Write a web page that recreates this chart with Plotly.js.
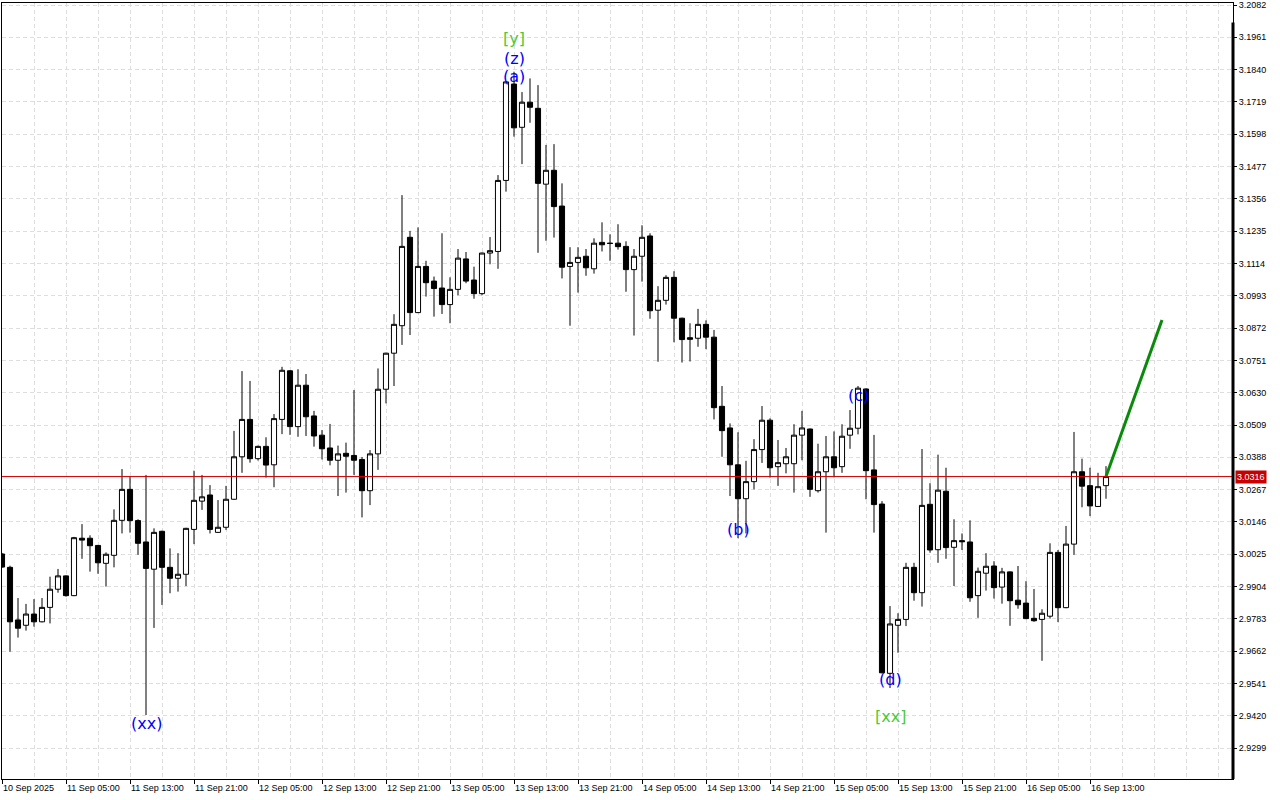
<!DOCTYPE html>
<html>
<head>
<meta charset="utf-8">
<script src="https://cdn.plot.ly/plotly-3.0.1.min.js"></script>
<style>
  html, body { margin: 0; padding: 0; background: #ffffff; }
  #chart { width: 1280px; height: 800px; }
</style>
</head>
<body>
<div id="chart"></div>
<script>
// ---- data (hourly candles, first bar 10 Sep 2025 21:00) ----
const firstBar = "2025-09-10 21:00";

const openVals = [
  3.0026, 2.9976, 2.9779, 2.9759, 2.9801, 2.9772, 2.9826, 2.9894, 2.9944, 2.9870,
  3.0085, 3.0085, 3.0058, 2.9991, 3.0021, 3.0152, 3.0268, 3.0151, 3.0071, 2.9969,
  3.0111, 2.9976, 2.9935, 2.9950, 3.0118, 3.0224, 3.0247, 3.0107, 3.0126, 3.0231,
  3.0390, 3.0530, 3.0383, 3.0429, 3.0360, 3.0530, 3.0712, 3.0503, 3.0658, 3.0543,
  3.0471, 3.0423, 3.0377, 3.0403, 3.0395, 3.0380, 3.0263, 3.0401, 3.0643, 3.0778,
  3.0881, 3.1212, 3.0930, 3.1103, 3.1048, 3.1022, 3.0960, 3.1017, 3.1131, 3.1052,
  3.1001, 3.1153, 3.1159, 3.1425, 3.1786, 3.1624, 3.1718, 3.1695, 3.1411, 3.1463,
  3.1329, 3.1103, 3.1118, 3.1141, 3.1094, 3.1193, 3.1190, 3.1190, 3.1178, 3.1091,
  3.1141, 3.1217, 3.0939, 3.0976, 3.1062, 3.0909, 3.0836, 3.0834, 3.0886, 3.0838,
  3.0579, 3.0498, 3.0360, 3.0233, 3.0297, 3.0417, 3.0527, 3.0353, 3.0364, 3.0364,
  3.0471, 3.0494, 3.0263, 3.0334, 3.0390, 3.0353, 3.0471, 3.0497, 3.0644, 3.0341,
  3.0213, 2.9579, 2.9759, 2.9781, 2.9976, 2.9881, 3.0212, 3.0042, 3.0261, 3.0051,
  3.0076, 3.0071, 2.9870, 2.9954, 2.9981, 2.9902, 2.9959, 2.9853, 2.9842, 2.9785,
  2.9781, 2.9793, 3.0032, 2.9825, 3.0063, 3.0334, 3.0282, 3.0204, 3.0282
];
const highVals = [
  3.0030, 2.9982, 2.9861, 2.9839, 2.9857, 2.9861, 2.9941, 2.9970, 2.9946, 3.0090,
  3.0138, 3.0096, 3.0060, 3.0032, 3.0193, 3.0344, 3.0318, 3.0156, 3.0322, 3.0122,
  3.0113, 3.0047, 3.0029, 3.0124, 3.0338, 3.0322, 3.0284, 3.0228, 3.0281, 3.0487,
  3.0711, 3.0674, 3.0432, 3.0463, 3.0550, 3.0727, 3.0715, 3.0718, 3.0700, 3.0562,
  3.0490, 3.0513, 3.0432, 3.0443, 3.0640, 3.0389, 3.0415, 3.0721, 3.0780, 3.0924,
  3.1370, 3.1236, 3.1249, 3.1124, 3.1065, 3.1227, 3.1062, 3.1168, 3.1157, 3.1102,
  3.1155, 3.1213, 3.1445, 3.1797, 3.1832, 3.1756, 3.1807, 3.1782, 3.1558, 3.1561,
  3.1414, 3.1175, 3.1175, 3.1168, 3.1208, 3.1268, 3.1223, 3.1261, 3.1197, 3.1168,
  3.1257, 3.1227, 3.1029, 3.1070, 3.1085, 3.0911, 3.0890, 3.0944, 3.0901, 3.0865,
  3.0655, 3.0515, 3.0482, 3.0375, 3.0456, 3.0580, 3.0534, 3.0453, 3.0423, 3.0512,
  3.0562, 3.0496, 3.0439, 3.0468, 3.0485, 3.0512, 3.0565, 3.0655, 3.0646, 3.0472,
  3.0224, 2.9831, 2.9804, 2.9993, 2.9993, 3.0419, 3.0291, 3.0398, 3.0349, 3.0156,
  3.0103, 3.0152, 2.9975, 3.0029, 2.9999, 2.9974, 2.9961, 2.9981, 2.9924, 2.9895,
  2.9819, 3.0066, 3.0041, 3.0131, 3.0483, 3.0383, 3.0349, 3.0330, 3.0355
];
const lowVals = [
  2.9974, 2.9660, 2.9713, 2.9739, 2.9754, 2.9770, 2.9766, 2.9881, 2.9866, 2.9868,
  3.0008, 2.9960, 2.9952, 2.9904, 2.9976, 3.0103, 3.0106, 3.0023, 2.9423, 2.9749,
  2.9835, 2.9879, 2.9885, 2.9906, 3.0063, 3.0191, 3.0103, 3.0105, 3.0116, 3.0229,
  3.0330, 3.0368, 3.0376, 3.0312, 3.0276, 3.0475, 3.0472, 3.0465, 3.0468, 3.0428,
  3.0380, 3.0358, 3.0243, 3.0256, 3.0322, 3.0163, 3.0209, 3.0341, 3.0590, 3.0655,
  3.0809, 3.0846, 3.0928, 3.0990, 3.0915, 3.0925, 3.0890, 3.0995, 3.1040, 3.0982,
  3.0995, 3.1111, 3.1094, 3.1383, 3.1589, 3.1486, 3.1641, 3.1154, 3.1199, 3.1211,
  3.1058, 3.0881, 3.1005, 3.1068, 3.1076, 3.1159, 3.1124, 3.1166, 3.1008, 3.0844,
  3.1046, 3.0907, 3.0746, 3.0960, 3.0819, 3.0743, 3.0747, 3.0802, 3.0793, 3.0530,
  3.0390, 3.0243, 3.0085, 3.0103, 3.0268, 3.0367, 3.0312, 3.0281, 3.0328, 3.0256,
  3.0377, 3.0240, 3.0256, 3.0106, 3.0313, 3.0330, 3.0420, 3.0474, 3.0231, 3.0106,
  2.9579, 2.9524, 2.9656, 2.9756, 2.9851, 2.9829, 3.0031, 2.9993, 3.0008, 2.9906,
  3.0041, 2.9847, 2.9787, 2.9889, 2.9859, 2.9840, 2.9757, 2.9821, 2.9782, 2.9772,
  2.9626, 2.9784, 2.9771, 2.9823, 3.0023, 3.0201, 3.0168, 3.0202, 3.0233
];
const closeVals = [
  2.9977, 2.9772, 2.9748, 2.9801, 2.9772, 2.9826, 2.9894, 2.9944, 2.9870, 3.0087,
  3.0078, 3.0057, 2.9993, 3.0025, 3.0152, 3.0268, 3.0151, 3.0066, 2.9972, 3.0107,
  2.9976, 2.9935, 2.9950, 3.0122, 3.0227, 3.0240, 3.0118, 3.0126, 3.0231, 3.0390,
  3.0530, 3.0383, 3.0429, 3.0359, 3.0533, 3.0714, 3.0503, 3.0658, 3.0540, 3.0468,
  3.0420, 3.0377, 3.0401, 3.0392, 3.0377, 3.0263, 3.0401, 3.0643, 3.0778, 3.0886,
  3.1178, 3.0930, 3.1103, 3.1042, 3.1020, 3.0960, 3.1017, 3.1134, 3.1048, 3.1001,
  3.1153, 3.1162, 3.1425, 3.1794, 3.1622, 3.1718, 3.1699, 3.1414, 3.1463, 3.1327,
  3.1100, 3.1118, 3.1137, 3.1098, 3.1190, 3.1184, 3.1189, 3.1177, 3.1091, 3.1141,
  3.1212, 3.0937, 3.0976, 3.1062, 3.0909, 3.0829, 3.0830, 3.0886, 3.0838, 3.0574,
  3.0488, 3.0360, 3.0233, 3.0297, 3.0417, 3.0527, 3.0349, 3.0368, 3.0390, 3.0471,
  3.0498, 3.0268, 3.0334, 3.0390, 3.0349, 3.0467, 3.0497, 3.0647, 3.0338, 3.0211,
  2.9581, 2.9764, 2.9781, 2.9976, 2.9881, 3.0208, 3.0041, 3.0265, 3.0050, 3.0076,
  3.0072, 2.9862, 2.9961, 2.9980, 2.9900, 2.9959, 2.9851, 2.9836, 2.9784, 2.9776,
  2.9804, 3.0032, 2.9825, 3.0063, 3.0334, 3.0280, 3.0206, 3.0278, 3.0316
];

const currentPrice = 3.0316;

// forecast arrow (green)
const forecastTimes = ["2025-09-16 15:00", "2025-09-16 22:00"];
const forecastPrices = [3.0316, 3.0902];

// wave labels
const waveLabels = ["[y]", "(z)", "(a)", "(xx)", "(b)", "(c)", "(d)", "[xx]"];
const waveTimes = ["2025-09-13 13:00", "2025-09-13 13:00", "2025-09-13 13:00", "2025-09-11 15:00",
                   "2025-09-14 17:00", "2025-09-15 08:00", "2025-09-15 12:00", "2025-09-15 12:00"];
const wavePrices = [3.1958, 3.1880, 3.1816, 2.9393, 3.0116, 3.0618, 2.9556, 2.9416];
const waveColors = ["#4cc93a", "#0000ff", "#0000ff", "#0000ff", "#0000ff", "#0000ff", "#0000ff", "#4cc93a"];

// axis ticks
const xTickTimes = [
  "2025-09-10 21:00", "2025-09-11 05:00", "2025-09-11 13:00", "2025-09-11 21:00",
  "2025-09-12 05:00", "2025-09-12 13:00", "2025-09-12 21:00", "2025-09-13 05:00",
  "2025-09-13 13:00", "2025-09-13 21:00", "2025-09-14 05:00", "2025-09-14 13:00",
  "2025-09-14 21:00", "2025-09-15 05:00", "2025-09-15 13:00", "2025-09-15 21:00",
  "2025-09-16 05:00", "2025-09-16 13:00"
];
const xTickLabels = [
  "10 Sep 2025", "11 Sep 05:00", "11 Sep 13:00", "11 Sep 21:00",
  "12 Sep 05:00", "12 Sep 13:00", "12 Sep 21:00", "13 Sep 05:00",
  "13 Sep 13:00", "13 Sep 21:00", "14 Sep 05:00", "14 Sep 13:00",
  "14 Sep 21:00", "15 Sep 05:00", "15 Sep 13:00", "15 Sep 21:00",
  "16 Sep 05:00", "16 Sep 13:00"
];
const yTicks = [
  2.9299, 2.9420, 2.9541, 2.9662, 2.9783, 2.9904, 3.0025, 3.0146, 3.0267, 3.0388,
  3.0509, 3.0630, 3.0751, 3.0872, 3.0993, 3.1114, 3.1235, 3.1356, 3.1477, 3.1598,
  3.1719, 3.1840, 3.1961, 3.2082
];

// ---- build bar times (one per hour) ----
function fmt(ms) {
  const s = new Date(ms).toISOString();
  return s.slice(0, 10) + " " + s.slice(11, 16);
}
const t0 = Date.UTC(2025, 8, 10, 21, 0);
const barTimes = openVals.map((_, i) => fmt(t0 + i * 3600000));

const gridColor = "#dedede";
const gridDash = "4px,3px";

const traces = [
  {
    type: "candlestick",
    x: barTimes,
    open: openVals, high: highVals, low: lowVals, close: closeVals,
    increasing: { line: { color: "#000000", width: 1 }, fillcolor: "#ffffff" },
    decreasing: { line: { color: "#000000", width: 1 }, fillcolor: "#000000" },
    whiskerwidth: 0,
    hoverinfo: "skip",
    showlegend: false
  },
  {
    type: "scatter",
    mode: "lines",
    x: forecastTimes,
    y: forecastPrices,
    line: { color: "#0a8a0a", width: 3 },
    hoverinfo: "skip",
    showlegend: false
  }
];

const annotations = waveLabels.map((txt, i) => ({
  x: waveTimes[i], y: wavePrices[i], xref: "x", yref: "y",
  text: txt, showarrow: false, xanchor: "center", yanchor: "middle",
  font: { family: "DejaVu Sans", size: 16, color: waveColors[i] }
}));
annotations.push({
  x: 1, xref: "paper", y: currentPrice, yref: "y",
  text: currentPrice.toFixed(4), showarrow: false,
  xanchor: "left", yanchor: "middle", xshift: 2,
  bgcolor: "#c80000", borderpad: 1,
  font: { family: "Liberation Sans", size: 9, color: "#ffffff" }
});

const layout = {
  width: 1280, height: 800,
  margin: { l: 2, r: 47, t: 3, b: 21, pad: 0 },
  paper_bgcolor: "#ffffff", plot_bgcolor: "#ffffff",
  font: { family: "Liberation Sans", size: 9, color: "#000000" },
  hovermode: false,
  showlegend: false,
  boxgap: 0.2, boxgroupgap: 0.2,
  xaxis: {
    type: "date",
    range: ["2025-09-10 21:00", "2025-09-17 06:52:30"],
    rangeslider: { visible: false },
    tickmode: "array", tickvals: xTickTimes, ticktext: xTickLabels,
    ticks: "outside", ticklen: 4, tickwidth: 1, tickcolor: "#000000",
    ticklabelposition: "outside right",
    tickfont: { family: "Liberation Sans", size: 9, color: "#000000" },
    showline: true, linecolor: "#000000", linewidth: 1, mirror: true,
    showgrid: true, gridcolor: gridColor, griddash: gridDash, gridwidth: 1,
    minor: { dtick: 4 * 3600000, tick0: "2025-09-10 21:00", showgrid: true,
             gridcolor: gridColor, griddash: gridDash, gridwidth: 1, ticks: "" },
    zeroline: false, fixedrange: true
  },
  yaxis: {
    side: "right",
    range: [2.91833, 3.20895],
    tickmode: "array", tickvals: yTicks, tickformat: ".4f",
    ticks: "outside", ticklen: 3, tickwidth: 1, tickcolor: "#000000",
    tickfont: { family: "Liberation Sans", size: 9, color: "#000000" },
    showline: true, linecolor: "#000000", linewidth: 1, mirror: true,
    showgrid: true, gridcolor: gridColor, griddash: gridDash, gridwidth: 1,
    zeroline: false, fixedrange: true
  },
  shapes: [
    { type: "line", xref: "paper", x0: 0, x1: 1, yref: "y", y0: currentPrice, y1: currentPrice,
      line: { color: "#d00000", width: 1 } },
    { type: "line", xref: "paper", x0: 1, x1: 1, yref: "paper", y0: 0, y1: 0.975,
      xsizemode: "scaled", line: { color: "#000000", width: 3 } }
  ],
  annotations: annotations
};

Plotly.newPlot("chart", traces, layout, { displayModeBar: false, staticPlot: true });
</script>
</body>
</html>
